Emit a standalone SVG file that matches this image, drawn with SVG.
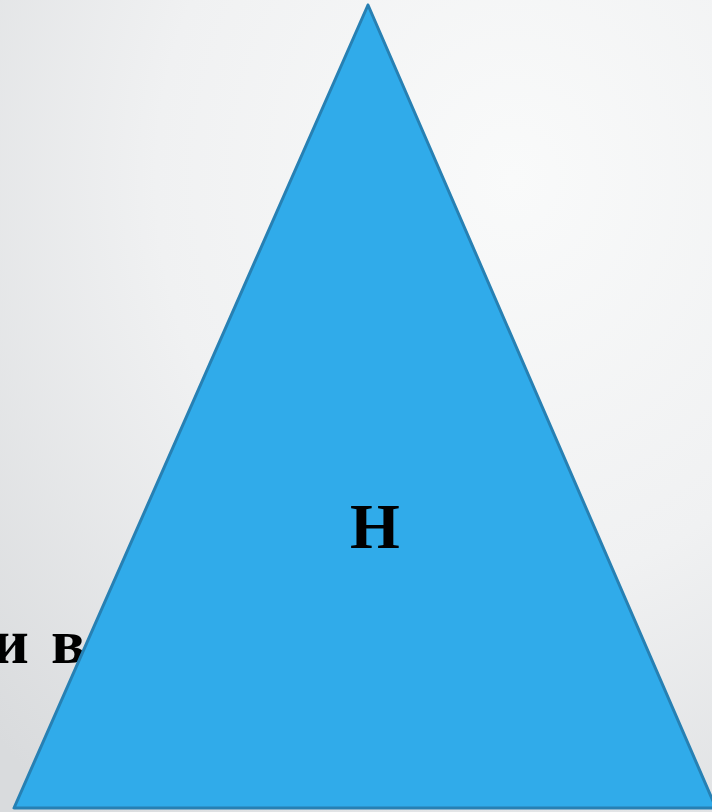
<svg xmlns="http://www.w3.org/2000/svg" width="712" height="812" viewBox="0 0 712 812">
<defs>
<radialGradient id="bg" cx="0.72" cy="0.22" r="1.0">
<stop offset="0" stop-color="#f9fafa"/>
<stop offset="0.5" stop-color="#f0f1f2"/>
<stop offset="1" stop-color="#d9dbdd"/>
</radialGradient>
<style>
.t{font-family:"Liberation Serif","Times New Roman",serif;font-weight:bold;fill:#000}
.tri{fill:#30abea;stroke:#2780b3;stroke-width:3;stroke-linejoin:round}
</style>
</defs>
<rect width="712" height="812" fill="url(#bg)"/>
<g id="text-behind">
<text class="t" x="-8" y="663" font-size="64">и<tspan x="51">в</tspan></text>
</g>
<g id="triangle">
<polygon class="tri" points="368,5 14,808 716,808"/>
<text class="t" x="375" y="548" font-size="64" text-anchor="middle">Н</text>
</g>
</svg>
